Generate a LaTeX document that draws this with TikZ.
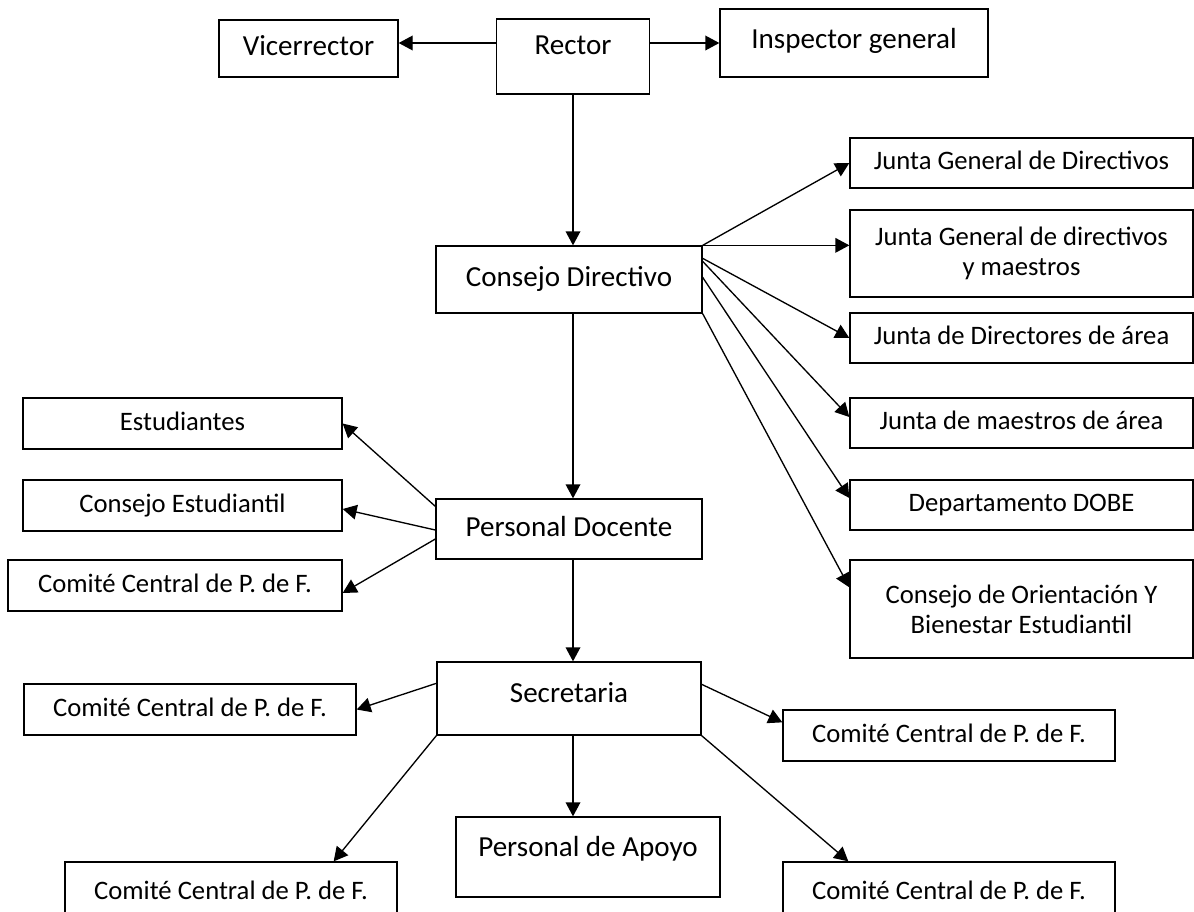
\documentclass[tikz,border=0pt]{standalone}
\usepackage{fontspec}
\setmainfont{Carlito}
\usetikzlibrary{arrows.meta,calc}
\begin{document}
\begin{tikzpicture}[x=0.75pt,y=-0.75pt,
    caja/.style={draw,line width=1pt,inner sep=0pt,align=center},
    grande/.style={font=\fontsize{21.8}{26}\selectfont,text height=16.3pt,text depth=5.5pt},
    chica/.style={font=\fontsize{20}{22.5}\selectfont,text height=15pt,text depth=5pt},
    doble/.style={font=\fontsize{20}{22.5}\selectfont},
    dim/.style 2 args={minimum width=#1*0.75pt,minimum height=#2*0.75pt},
    flecha/.style={line width=1pt,-{Triangle[length=10.5pt,width=11pt]}}]
        \useasboundingbox (0,0) rectangle (1194,911);
        \clip (0,0) rectangle (1194,911);
        \node[caja,grande,dim={179}{57}] (vice) at (308.5,48.5) {Vicerrector};
        \node[caja,grande,dim={153}{75},text depth=18.7pt] (rector) at (573,56.5) {Rector};
        \node[caja,grande,dim={268}{68},text depth=8.2pt] (insp) at (854,43) {Inspector general};
        \node[caja,grande,dim={266}{67}] (consejo) at (569,279.5) {Consejo Directivo};
        \node[caja,grande,dim={266}{60}] (docente) at (569,529) {Personal Docente};
        \node[caja,grande,dim={264}{73},text depth=9.7pt] (secre) at (569,698.5) {Secretaria};
        \node[caja,grande,dim={264}{80},text depth=17.2pt] (apoyo) at (588,857) {Personal de Apoyo};
        \node[caja,chica,dim={343}{50}] (jgd) at (1021.5,163) {Junta General de Directivos};
        \node[caja,doble,dim={343}{87}] (jgdm) at (1021.5,253.5) {Junta General de directivos\\y maestros};
        \node[caja,chica,dim={343}{50}] (jda) at (1021.5,338) {Junta de Directores de área};
        \node[caja,chica,dim={343}{50}] (jma) at (1021.5,423) {Junta de maestros de área};
        \node[caja,chica,dim={343}{50}] (dobe) at (1021.5,505) {Departamento DOBE};
        \node[caja,doble,dim={343}{98}] (cobe) at (1021.5,609) {Consejo de Orientación Y\\Bienestar Estudiantil};
        \node[caja,chica,dim={319}{51}] (estud) at (182.5,423.5) {Estudiantes};
        \node[caja,chica,dim={319}{51}] (cestud) at (182.5,505.5) {Consejo Estudiantil};
        \node[caja,chica,dim={334}{51}] (comA) at (175,585.5) {Comité Central de P. de F.};
        \node[caja,chica,dim={332}{51}] (comB) at (190,709.5) {Comité Central de P. de F.};
        \node[caja,chica,dim={332}{62}] (comC) at (231,893) {Comité Central de P. de F.};
        \node[caja,chica,dim={332}{51}] (comD) at (949,735.5) {Comité Central de P. de F.};
        \node[caja,chica,dim={332}{62}] (comE) at (949,893) {Comité Central de P. de F.};
        \draw[flecha] (rector.west |- insp.east) -- (vice.east |- insp.east);
        \draw[flecha] (rector.east |- insp.west) -- (insp.west);
        \draw[flecha] (rector.south) -- (rector.south |- consejo.north);
        \draw[flecha] (consejo.south -| rector.south) -- (docente.north -| rector.south);
        \draw[flecha] (docente.south -| rector.south) -- (secre.north -| rector.south);
        \draw[flecha] (secre.south -| rector.south) -- (apoyo.north -| rector.south);
        \draw[flecha] (consejo.north east) -- (jgd.west);
        \draw[flecha] (consejo.north east) -- (consejo.north east -| jgdm.west);
        \draw[flecha] ($(consejo.north east)+(0,13)$) -- (jda.west);
        \draw[flecha] ($(consejo.north east)+(0,16)$) -- ($(jma.west)+(0,-6)$);
        \draw[flecha] ($(consejo.north east)+(0,32)$) -- ($(dobe.west)+(0,-7)$);
        \draw[flecha] (consejo.south east) -- ($(cobe.north west)+(0,28)$);
        \draw[flecha] ($(docente.north west)+(0,8)$) -- (estud.east);
        \draw[flecha] ($(docente.west)+(0,1)$) -- ($(cestud.east)+(0,3.5)$);
        \draw[flecha] ($(docente.west)+(0,10)$) -- ($(comA.east)+(0,7.5)$);
        \draw[flecha] ($(secre.north west)+(0,22)$) -- (comB.east);
        \draw[flecha] (secre.south west) -- ($(comC.north east)+(-64,0)$);
        \draw[flecha] ($(secre.north east)+(0,23)$) -- ($(comD.north west)+(0,13)$);
        \draw[flecha] (secre.south east) -- ($(comE.north west)+(66,0)$);
      \end{tikzpicture}
\end{document}
